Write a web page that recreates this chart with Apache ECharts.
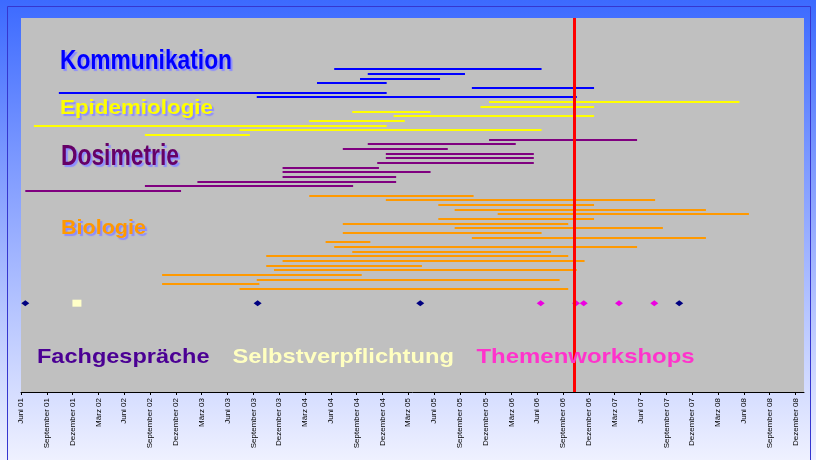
<!DOCTYPE html>
<html>
<head>
<meta charset="utf-8">
<script src="https://cdn.jsdelivr.net/npm/echarts@6/dist/echarts.min.js"></script>
<style>
html, body { margin: 0; padding: 0; }
#chart { width: 816px; height: 460px; }
</style>
</head>
<body>
<div id="chart"></div>
<script>
// months counted from Juni 01 (= 0)
var tickLabels = ['Juni 01', 'September 01', 'Dezember 01', 'März 02', 'Juni 02', 'September 02', 'Dezember 02',
	'März 03', 'Juni 03', 'September 03', 'Dezember 03', 'März 04', 'Juni 04', 'September 04', 'Dezember 04',
	'März 05', 'Juni 05', 'September 05', 'Dezember 05', 'März 06', 'Juni 06', 'September 06', 'Dezember 06',
	'März 07', 'Juni 07', 'September 07', 'Dezember 07', 'März 08', 'Juni 08', 'September 08', 'Dezember 08'];

var kommStart = [36.4, 40.3, 39.4, 34.4, 52.4, 4.4, 27.4];
var kommEnd   = [60.5, 51.6, 48.7, 42.5, 66.6, 42.5, 64.6];

var epiStart = [54.4, 53.4, 38.5, 43.3, 33.5, 1.5, 25.4, 14.4];
var epiEnd   = [83.5, 66.6, 47.6, 66.6, 44.6, 42.5, 60.5, 26.6];

var dosiStart = [54.4, 40.3, 37.4, 42.4, 42.4, 41.4, 30.4, 30.4, 30.4, 20.5, 14.4, 0.5];
var dosiEnd   = [71.6, 57.5, 49.6, 59.6, 59.6, 59.6, 41.6, 47.6, 43.6, 43.6, 38.6, 18.6];

var bioStart = [33.5, 42.4, 48.5, 50.4, 55.4, 48.5, 37.4, 50.4, 37.4, 52.4, 35.4,
	36.4, 38.5, 28.5, 30.4, 28.5, 29.4, 16.4, 27.4, 16.4, 25.4];
var bioEnd   = [52.6, 73.7, 66.6, 79.6, 84.6, 66.6, 63.6, 74.6, 60.5, 79.6, 40.6,
	71.6, 61.6, 63.6, 65.5, 46.6, 64.6, 39.6, 62.6, 27.7, 63.6];

var fachgespraeche = [0.5, 27.5, 46.4, 76.5];
var selbstverpflichtung = [6.5];
var themenworkshops = [60.4, 64.5, 65.4, 69.5, 73.6];
var stichtag = 64.25;

var markerRow = 50;

var row = 0;
function toRows(starts, ends) {
	var out = [];
	for (var i = 0; i < starts.length; i++) {
		out.push([starts[i], ends[i], row]);
		row++;
	}
	return out;
}
var kommData = toRows(kommStart, kommEnd);
var epiData = toRows(epiStart, epiEnd);
var dosiData = toRows(dosiStart, dosiEnd);
var bioData = toRows(bioStart, bioEnd);

function points(list) {
	return list.map(function(v) { return [v, markerRow]; });
}

function renderBar(params, api) {
	var p1 = api.coord([api.value(0), api.value(2)]);
	var p2 = api.coord([api.value(1), api.value(2)]);
	var y = Math.round(p1[1]);
	return {
		type: 'line',
		shape: { x1: p1[0], y1: y, x2: p2[0], y2: y },
		style: { stroke: api.visual('color'), lineWidth: 2 }
	};
}

function barSeries(name, color, data) {
	return {
		name: name,
		type: 'custom',
		renderItem: renderBar,
		itemStyle: { color: color },
		encode: { x: [0, 1], y: 2 },
		data: data,
		silent: true
	};
}

var font = '"Liberation Sans", Arial, sans-serif';
function label(text, x, y, size, sx, color, shadow) {
	var st = {
		text: text,
		x: 0, y: 0,
		fill: color,
		font: 'bold ' + size + 'px ' + font,
		verticalAlign: 'middle'
	};
	if (shadow) {
		st.textShadowColor = '#8c8cff';
		st.textShadowOffsetX = 2;
		st.textShadowOffsetY = 2;
		st.textShadowBlur = 1;
	}
	return { type: 'text', x: x, y: y, scaleX: sx, z: 100, style: st };
}

var ticks = [];
for (var t = 0; t <= 90; t += 3) ticks.push(t);

var chart = echarts.init(document.getElementById('chart'));
chart.setOption({
	animation: false,
	backgroundColor: {
		type: 'linear', x: 0, y: 0, x2: 0, y2: 1,
		colorStops: [
			{ offset: 0, color: '#3c6aff' },
			{ offset: 0.45, color: '#8ea6ff' },
			{ offset: 1, color: '#eff1ff' }
		]
	},
	grid: {
		left: 21, right: 12, top: 18, bottom: 68,
		show: true, backgroundColor: '#c0c0c0', borderWidth: 0
	},
	xAxis: {
		type: 'value',
		min: 0, max: 91,
		splitLine: { show: false },
		axisLine: { onZero: false, lineStyle: { color: '#000', width: 1 } },
		axisTick: { show: true, length: 3, customValues: ticks, lineStyle: { color: '#000' } },
		axisLabel: {
			customValues: ticks,
			rotate: 90,
			margin: 6,
			fontSize: 8,
			fontFamily: font,
			color: '#000',
			formatter: function(v) { return tickLabels[Math.round(v / 3)]; }
		}
	},
	yAxis: {
		type: 'value',
		inverse: true,
		min: -11, max: 69,
		show: false
	},
	graphic: [
		{ type: 'rect', shape: { x: 7.5, y: 6.5, width: 803, height: 470 }, style: { fill: null, stroke: '#3636d0', lineWidth: 1 }, z: -1 },
		label('Kommunikation', 60, 61.5, 27, 0.843, '#0000ff', true),
		label('Epidemiologie', 60, 108.5, 21, 1.066, '#ffff00', true),
		label('Dosimetrie', 61, 157, 29, 0.787, '#660066', true),
		label('Biologie', 61, 228, 20, 1.077, '#ff9900', true),
		label('Fachgespräche', 37, 357.5, 21, 1.12, '#4b0094', false),
		label('Selbstverpflichtung', 232.5, 357.5, 21, 1.13, '#ffffc0', false),
		label('Themenworkshops', 476.5, 357.5, 21, 1.14, '#ff33cc', false)
	],
	series: [
		barSeries('Kommunikation', '#0000ff', kommData),
		barSeries('Epidemiologie', '#ffff00', epiData),
		barSeries('Dosimetrie', '#800080', dosiData),
		barSeries('Biologie', '#ff9900', bioData),
		{
			name: 'Fachgespräche', type: 'scatter',
			symbol: 'diamond', symbolSize: [8, 6],
			itemStyle: { color: '#000080', opacity: 1 },
			data: points(fachgespraeche), silent: true
		},
		{
			name: 'Selbstverpflichtung', type: 'scatter',
			symbol: 'rect', symbolSize: [9, 7],
			itemStyle: { color: '#ffffc8', opacity: 1 },
			data: points(selbstverpflichtung), silent: true
		},
		{
			name: 'Themenworkshops', type: 'scatter',
			symbol: 'diamond', symbolSize: [8, 6],
			itemStyle: { color: '#ec00e0', opacity: 1 },
			data: points(themenworkshops), silent: true,
			markLine: {
				silent: true,
				symbol: 'none',
				label: { show: false },
				lineStyle: { color: '#ff0000', width: 3, type: 'solid' },
				data: [{ xAxis: stichtag }]
			}
		}
	]
});
</script>
</body>
</html>
